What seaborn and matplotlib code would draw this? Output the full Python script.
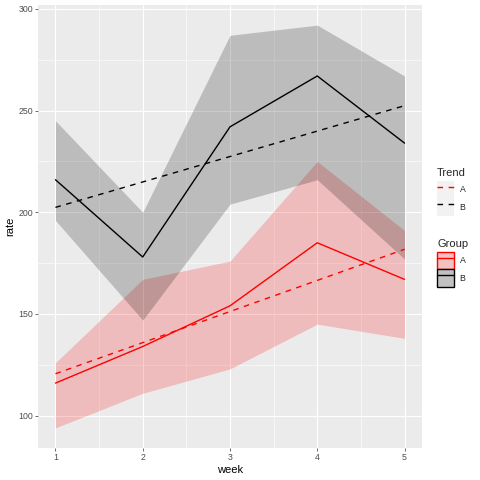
import numpy as np
import pandas as pd
import seaborn as sns
import matplotlib
matplotlib.use("Agg")
import matplotlib.pyplot as plt
from matplotlib.lines import Line2D
from matplotlib.patches import Patch

weeks = [1, 2, 3, 4, 5]
rate_a = [116, 134, 154, 185, 167]
low_a = [94, 111, 123, 145, 138]
high_a = [126, 167, 176, 225, 191]
rate_b = [216, 178, 242, 267, 234]
low_b = [196, 147, 204, 216, 177]
high_b = [245, 200, 287, 292, 267]
groups = ["A", "B"]
colors = {"A": "red", "B": "black"}

df = pd.DataFrame({
    "week": weeks * 2,
    "rate": rate_a + rate_b,
    "lower": low_a + low_b,
    "upper": high_a + high_b,
    "Group": ["A"] * 5 + ["B"] * 5,
})

sns.set_theme(style="darkgrid")
plt.rcParams["font.family"] = ["Liberation Sans", "DejaVu Sans"]

fig = plt.figure(figsize=(4.8, 4.8), dpi=100)
ax = fig.add_axes([38 / 480, 1 - 448 / 480, (422 - 38) / 480, (448 - 5) / 480])
ax.set_facecolor("#EBEBEB")
for s in ax.spines.values():
    s.set_visible(False)

for g in groups:
    d = df[df.Group == g]
    ax.fill_between(d.week, d.lower, d.upper, color=colors[g], alpha=0.2, lw=0, zorder=2)

sns.lineplot(data=df, x="week", y="rate", hue="Group", palette=colors, lw=1,
             legend=False, ax=ax, zorder=3)

for g in groups:
    d = df[df.Group == g]
    sns.regplot(data=d, x="week", y="rate", scatter=False, ci=None, ax=ax,
                color=colors[g], line_kws=dict(ls=(0, (4, 4)), lw=1, zorder=3))

ylo = min(low_a + low_b)
yhi = max(high_a + high_b)
pad = (yhi - ylo) * 0.05
ax.set_xlim(0.8, 5.2)
ax.set_ylim(ylo - pad, yhi + pad)
ax.set_xticks(weeks)
ax.set_yticks([100, 150, 200, 250, 300])
ax.set_xticks([1.5, 2.5, 3.5, 4.5], minor=True)
ax.set_yticks([125, 175, 225, 275], minor=True)
ax.grid(which="major", color="white", lw=0.8)
ax.grid(which="minor", color="white", lw=0.4)
ax.set_axisbelow(True)
ax.tick_params(which="major", length=2, width=0.5, color="#333333",
               labelsize=6.3, labelcolor="#4D4D4D", pad=1.5,
               bottom=True, left=True)
ax.tick_params(which="minor", length=0)
ax.set_xlabel("week", fontsize=8, color="black", labelpad=2)
ax.set_ylabel("rate", fontsize=8, color="black", labelpad=2)

legend_kw = dict(loc="upper left", frameon=False, fontsize=6.3, title_fontsize=8,
                 handlelength=1.98, handleheight=2.67, labelspacing=0.0,
                 handletextpad=0.6, borderpad=0, borderaxespad=0, alignment="left")

trend_handles = [(Patch(facecolor="#F2F2F2", edgecolor="none"),
                  Line2D([], [], color=colors[g], lw=1, ls=(0, (4, 4))))
                 for g in groups]
leg1 = fig.legend(trend_handles, groups, title="Trend",
                  bbox_to_anchor=(437 / 480, 1 - 168 / 480), **legend_kw)
group_handles = [(Patch(facecolor="#F2F2F2", edgecolor="none"),
                  Patch(facecolor=colors[g], alpha=0.2, edgecolor="none"),
                  Patch(facecolor="none", edgecolor=colors[g], lw=1),
                  Line2D([], [], color=colors[g], lw=1)) for g in groups]
leg2 = fig.legend(group_handles, groups, title="Group",
                  bbox_to_anchor=(437 / 480, 1 - 239 / 480), **legend_kw)
# small gap between legend title and keys
for leg in (leg1, leg2):
    leg._legend_box.sep = 2.2

fig.savefig("out.png", dpi=100)
